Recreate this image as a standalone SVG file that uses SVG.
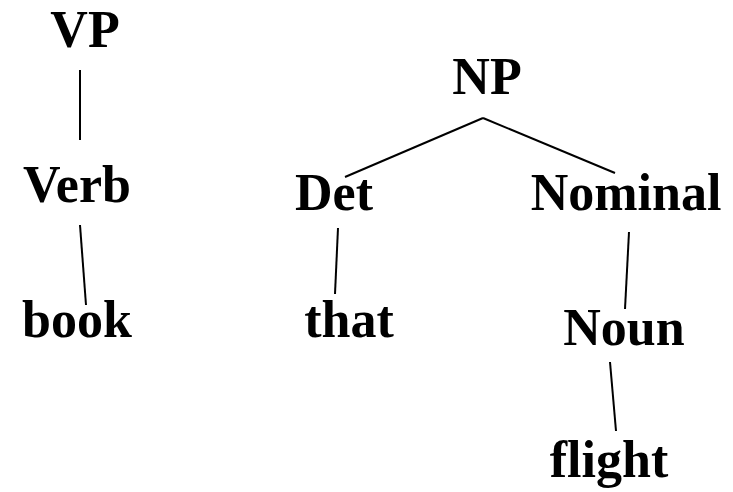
<svg xmlns="http://www.w3.org/2000/svg" width="733" height="492" viewBox="0 0 733 492">
<style>
text{font-family:"Liberation Serif","Times New Roman",serif;font-weight:bold;font-size:52px;fill:#000;text-anchor:middle}
.e line{stroke:#000;stroke-width:2;fill:none}
</style>
<rect width="733" height="492" fill="#fff"/>
<g class="e" id="connectors">
<line x1="80" y1="70" x2="80" y2="140"/>
<line x1="80" y1="225" x2="86" y2="305"/>
<line x1="483" y1="118" x2="345" y2="177"/>
<line x1="483" y1="118" x2="615" y2="173"/>
<line x1="338" y1="228" x2="335" y2="294"/>
<line x1="629" y1="232" x2="625" y2="309"/>
<line x1="610" y1="362" x2="616" y2="431"/>
</g>
<g id="VP"><text x="85" y="47">VP</text></g>
<g id="Verb"><text x="77" y="202">Verb</text></g>
<g id="book"><text x="77" y="337">book</text></g>
<g id="NP"><text x="487" y="94">NP</text></g>
<g id="Det"><text x="334" y="210">Det</text></g>
<g id="Nominal"><text x="626" y="210">Nominal</text></g>
<g id="that"><text x="349" y="337">that</text></g>
<g id="Noun"><text x="624" y="345">Noun</text></g>
<g id="flight"><text x="609" y="477">flight</text></g>
</svg>
